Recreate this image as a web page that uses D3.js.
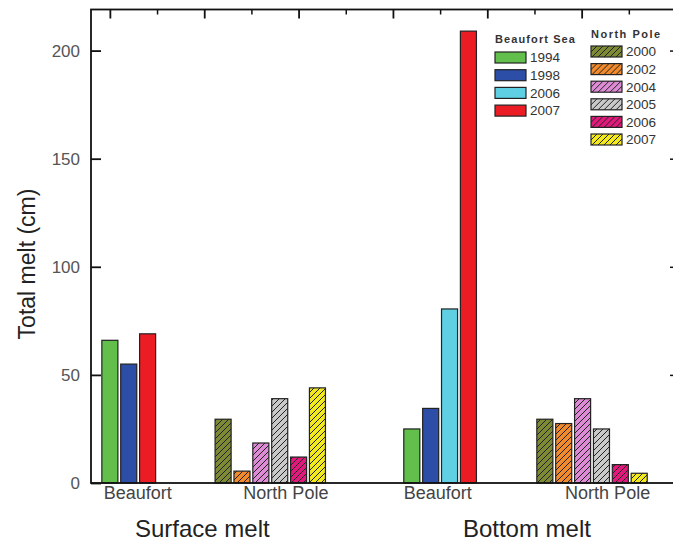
<!DOCTYPE html>
<html>
<head>
<meta charset="utf-8">
<script src="https://cdn.jsdelivr.net/npm/d3@7"></script>
<style>
  body { margin: 0; background: #fff; }
  svg { display: block; font-family: "Liberation Sans", Arial, sans-serif; }
</style>
</head>
<body>
<svg width="673" height="542"></svg>
<script>
// data
const beaufortYears = ["1994", "1998", "2006", "2007"];
const northPoleYears = ["2000", "2002", "2004", "2005", "2006", "2007"];

const surfaceBeaufortYears = ["1994", "1998", "2007"];
const surfaceBeaufort = [66, 55, 69];
const surfaceNorthPole = [29.5, 5.5, 18.5, 39, 12, 44];

const bottomBeaufortYears = ["1994", "1998", "2006", "2007"];
const bottomBeaufort = [25, 34.5, 80.5, 209];
const bottomNorthPole = [29.5, 27.5, 39, 25, 8.5, 4.5];

const yTicks = [0, 50, 100, 150, 200];
const categoryLabels = ["Beaufort", "North Pole", "Beaufort", "North Pole"];
const meltTypes = ["Surface melt", "Bottom melt"];

const beaufortColors = {"1994": "#62bf4b", "1998": "#2d4ea6", "2006": "#5fcfe3", "2007": "#ec1c24"};
const northPoleColors = {"2000": "#7d8a33", "2002": "#f08a2c", "2004": "#de8bd6",
                         "2005": "#c9c9c9", "2006": "#e2197c", "2007": "#f2ea1e"};

const svg = d3.select("svg");

// x is in "bar slots", like the x values of the original plot
const x = d3.scaleLinear().domain([-1, 30]).range([91, 676]);
const y = d3.scaleLinear().domain([0, 219]).range([483, 9.5]);
const slot = x(1) - x(0);
const barW = slot * 0.85;

// hatch patterns for North Pole bars
const defs = svg.append("defs");
northPoleYears.forEach(yr => {
  const p = defs.append("pattern")
      .attr("id", "hatch" + yr)
      .attr("patternUnits", "userSpaceOnUse")
      .attr("width", 6).attr("height", 6);
  p.append("rect").attr("width", 6).attr("height", 6).attr("fill", northPoleColors[yr]);
  p.append("path")
      .attr("d", "M-1,1 l2,-2 M0,6 l6,-6 M5,7 l2,-2")
      .attr("stroke", "#222").attr("stroke-width", 1);
});

// build bar records
const bars = [];
const addGroup = (start, years, values, np) => {
  values.forEach((v, i) => {
    bars.push({pos: start + i, value: v, year: years[i], np: np});
  });
};
addGroup(0, surfaceBeaufortYears, surfaceBeaufort, false);
addGroup(6, northPoleYears, surfaceNorthPole, true);
addGroup(16, bottomBeaufortYears, bottomBeaufort, false);
addGroup(23.05, northPoleYears, bottomNorthPole, true);

svg.append("g").selectAll("rect")
  .data(bars)
  .enter().append("rect")
    .attr("x", d => x(d.pos) - barW / 2)
    .attr("y", d => y(d.value))
    .attr("width", barW)
    .attr("height", d => y(0) - y(d.value))
    .attr("fill", d => d.np ? "url(#hatch" + d.year + ")" : beaufortColors[d.year])
    .attr("stroke", "#222")
    .attr("stroke-width", 1.2);

// frame
svg.append("rect")
    .attr("x", x(-1)).attr("y", y(219))
    .attr("width", x(30) - x(-1)).attr("height", y(0) - y(219))
    .attr("fill", "none").attr("stroke", "#111").attr("stroke-width", 1.8);

// left axis, ticks pointing in
const left = svg.append("g")
    .attr("transform", "translate(" + x(-1) + ",0)")
    .call(d3.axisLeft(y).tickValues(yTicks).tickSizeInner(-10).tickSizeOuter(0).tickPadding(11));
left.select(".domain").remove();
left.selectAll("line").attr("stroke", "#111").attr("stroke-width", 1.8);
left.selectAll("text").attr("font-size", 17).attr("fill", "#555")
    .attr("font-family", "Liberation Sans, Arial, sans-serif");

// right axis, no labels
const right = svg.append("g")
    .attr("transform", "translate(" + x(30) + ",0)")
    .call(d3.axisRight(y).tickValues(yTicks.slice(1)).tickSizeInner(-6).tickSizeOuter(0).tickFormat(""));
right.select(".domain").remove();
right.selectAll("line").attr("stroke", "#111").attr("stroke-width", 1.5);

// top axis, major + minor ticks
const topMajor = svg.append("g")
    .attr("transform", "translate(0," + y(219) + ")")
    .call(d3.axisTop(x).tickValues(d3.range(0, 31, 5)).tickSizeInner(-9).tickSizeOuter(0).tickFormat(""));
topMajor.select(".domain").remove();
topMajor.selectAll("line").attr("stroke", "#111").attr("stroke-width", 1.8);
const topMinor = svg.append("g")
    .attr("transform", "translate(0," + y(219) + ")")
    .call(d3.axisTop(x).tickValues(d3.range(2.5, 31, 5)).tickSizeInner(-5).tickSizeOuter(0).tickFormat(""));
topMinor.select(".domain").remove();
topMinor.selectAll("line").attr("stroke", "#111").attr("stroke-width", 1.5);

// category labels under the axis
const bottom = svg.append("g")
    .attr("transform", "translate(0," + y(0) + ")")
    .call(d3.axisBottom(x).tickValues([1.45, 9.3, 17.35, 26.35]).tickSize(0).tickPadding(3)
      .tickFormat((d, i) => categoryLabels[i]));
bottom.select(".domain").remove();
bottom.selectAll("text").attr("font-size", 18).attr("fill", "#444")
    .attr("font-family", "Liberation Sans, Arial, sans-serif");

// melt type titles
svg.append("g").selectAll("text")
  .data(meltTypes)
  .enter().append("text")
    .attr("x", (d, i) => x([4.9, 22.1][i]))
    .attr("y", 537)
    .attr("text-anchor", "middle")
    .attr("font-size", 24)
    .attr("fill", "#222")
    .text(d => d);

// y axis title
svg.append("text")
    .attr("transform", "translate(35,264) rotate(-90)")
    .attr("text-anchor", "middle")
    .attr("font-size", 23)
    .attr("fill", "#222")
    .text("Total melt (cm)");

// legends
const legend = (title, years, x0, titleY, rowY, step, fillFn, spacing) => {
  const g = svg.append("g");
  g.append("text")
      .attr("x", x0).attr("y", titleY)
      .attr("font-size", 11).attr("font-weight", "bold")
      .attr("letter-spacing", spacing)
      .attr("fill", "#333")
      .text(title);
  const rows = g.selectAll(".row").data(years).enter().append("g")
      .attr("transform", (d, i) => "translate(" + x0 + "," + (rowY + i * step) + ")");
  rows.append("rect")
      .attr("width", 31).attr("height", 11)
      .attr("fill", fillFn)
      .attr("stroke", "#222").attr("stroke-width", 1.2);
  rows.append("text")
      .attr("x", 35).attr("y", 5.5).attr("dy", "0.36em")
      .attr("font-size", 13.5).attr("fill", "#333")
      .text(d => d);
};
legend("Beaufort Sea", beaufortYears, 495, 43, 52, 17.7, d => beaufortColors[d], 1.1);
legend("North Pole", northPoleYears, 591, 38, 46, 17.6, d => "url(#hatch" + d + ")", 1.5);
</script>
</body>
</html>
